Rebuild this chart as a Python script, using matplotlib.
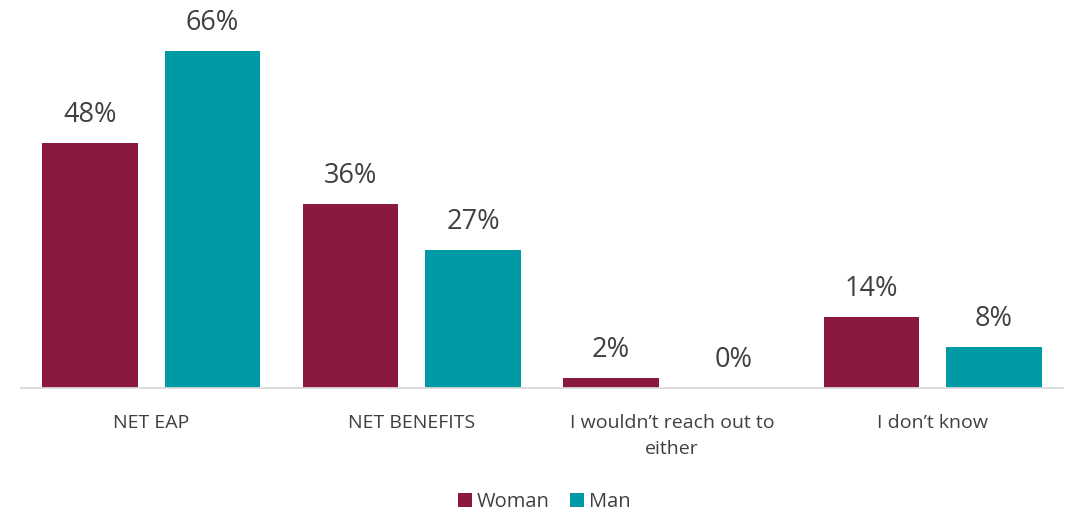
import matplotlib.pyplot as plt
import numpy as np

plt.rcParams['font.family'] = ['Open Sans', 'DejaVu Sans']

# Antworten je Kategorie
categories = ['NET EAP', 'NET BENEFITS', 'I wouldn\u2019t reach out to\neither', 'I don\u2019t know']
woman = [48, 36, 2, 14]
man = [66, 27, 0, 8]

c_woman = '#8B193E'
c_man = '#009AA6'
text_col = '#404040'

fig = plt.figure(figsize=(10.71, 5.11), dpi=100)
ax = fig.add_axes([21 / 1071, 123 / 511, 1042 / 1071, 357.4 / 511])

x = np.arange(len(categories))
w = 0.365
off = 0.235
b1 = ax.bar(x - off, woman, w, color=c_woman, label='Woman')
b2 = ax.bar(x + off, man, w, color=c_man, label='Man')

for bars, vals in ((b1, woman), (b2, man)):
    for rect, v in zip(bars, vals):
        ax.annotate(f'{v}%', (rect.get_x() + rect.get_width() / 2, v),
                    xytext=(0, 10), textcoords='offset points',
                    ha='center', va='bottom', fontsize=19.5, color=text_col)

ax.set_xlim(-0.5, 3.5)
ax.set_ylim(0, 70)
ax.set_xticks(x)
ax.set_xticklabels(categories, fontsize=14, color=text_col, linespacing=1.55)
ax.tick_params(axis='x', length=0, pad=19)
ax.set_yticks([])
for s in ('top', 'right', 'left'):
    ax.spines[s].set_visible(False)
ax.spines['bottom'].set_color('#D9D9D9')
ax.spines['bottom'].set_linewidth(1.3)

fig.legend(loc='lower center', bbox_to_anchor=(0.508, -0.038), ncol=2, frameon=False,
           fontsize=14.5, labelcolor=text_col, handlelength=0.7, handleheight=0.7,
           handletextpad=0.25, columnspacing=1.0)

fig.savefig('out.png', dpi=100)
